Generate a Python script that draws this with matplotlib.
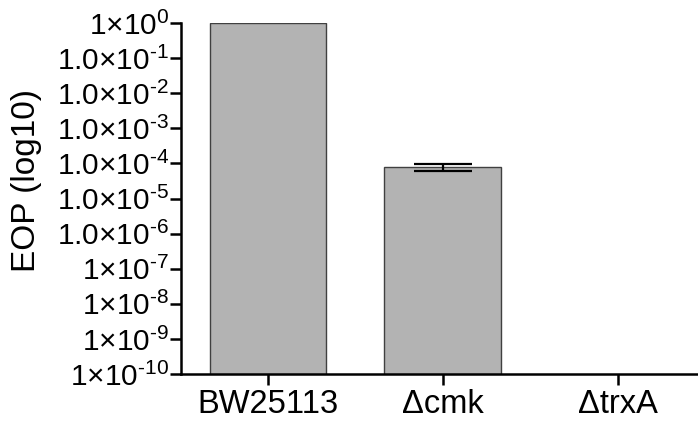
import matplotlib
matplotlib.use("Agg")
import matplotlib.pyplot as plt
import numpy as np

plt.rcParams["font.family"] = ["Liberation Sans", "DejaVu Sans"]
plt.rcParams["mathtext.fontset"] = "custom"
plt.rcParams["mathtext.rm"] = "Liberation Sans"
plt.rcParams["mathtext.default"] = "regular"

strains = ["BW25113", "\u0394cmk", "\u0394trxA"]
eop = [1.0, 7.8e-5, np.nan]
eop_err = [0.0, 1.9e-5, 0.0]

tick_vals = [10.0 ** -k for k in range(0, 11)]
tick_labels = ["1\u00d710$^{0}$"] + \
    [f"1.0\u00d710$^{{\\text{{-{k}}}}}$" for k in range(1, 7)] + \
    [f"1\u00d710$^{{\\text{{-{k}}}}}$" for k in range(7, 11)]

fig = plt.figure(figsize=(6.98, 4.21), dpi=100)
ax = fig.add_axes([0.2586, 0.1116, 0.7414, 0.8337])
x = np.arange(len(strains))
ax.bar(x, eop, width=0.667, color="#b3b3b3", edgecolor="#404040", linewidth=1.0)
ax.errorbar(x[1], eop[1], yerr=eop_err[1], fmt="none", ecolor="black",
            elinewidth=1.6, capsize=21, capthick=1.6)
ax.set_yscale("log")
ax.set_ylim(1e-10, 1)
ax.set_xlim(-0.5, 2.46)
ax.set_yticks(tick_vals)
ax.set_yticklabels(tick_labels, fontsize=21.5)
ax.minorticks_off()
ax.set_xticks(x)
ax.set_xticklabels(strains, fontsize=23.5)
ax.set_ylabel("EOP (log10)", fontsize=24)
ax.yaxis.set_label_coords(-0.268, 0.55)
for s in ("top", "right"):
    ax.spines[s].set_visible(False)
for s in ("left", "bottom"):
    ax.spines[s].set_linewidth(1.8)
ax.tick_params(axis="both", length=8, width=1.8)
ax.tick_params(axis="y", pad=0)
ax.tick_params(axis="x", pad=3)
fig.savefig("out.png", dpi=100)
